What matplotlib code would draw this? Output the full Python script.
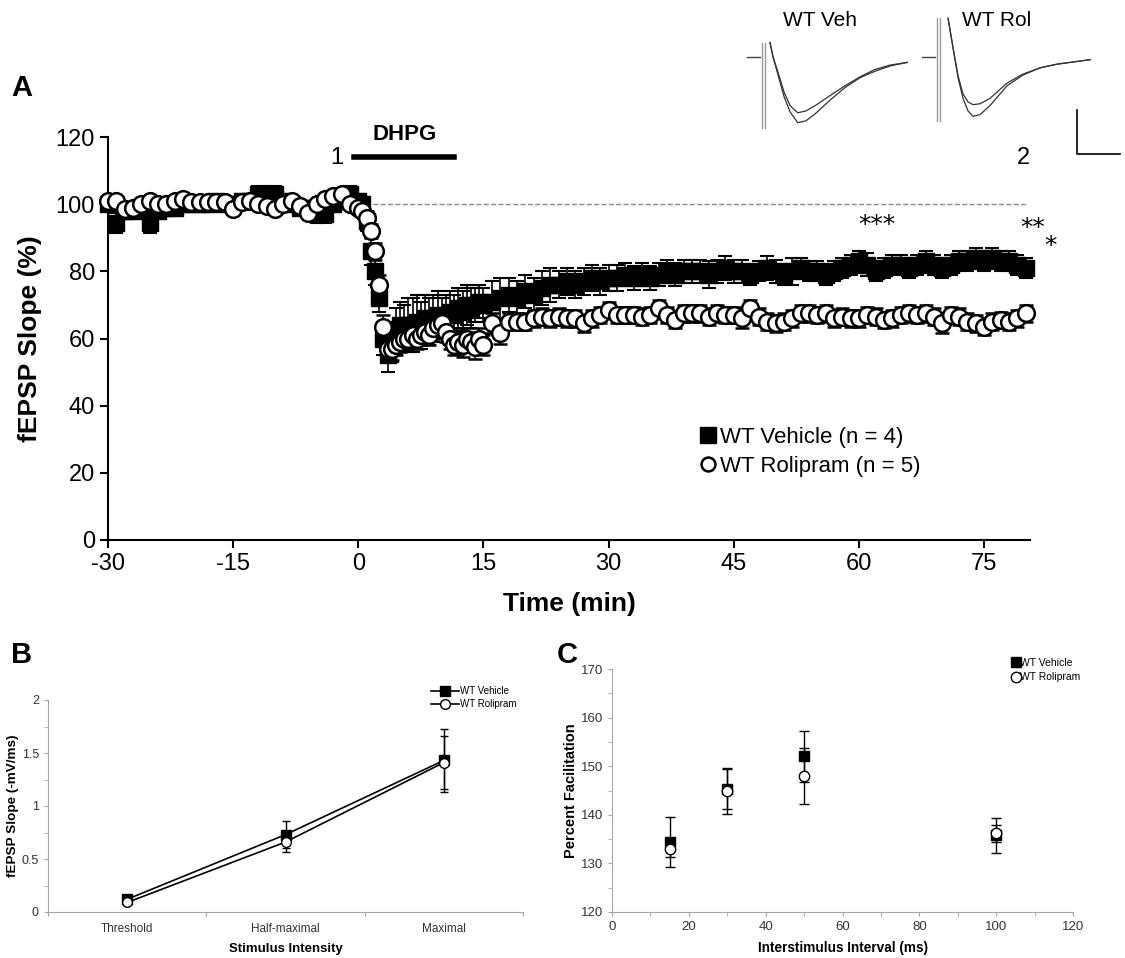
import numpy as np
import matplotlib
import matplotlib.pyplot as plt
from matplotlib.lines import Line2D

matplotlib.use('Agg')
plt.rcParams['font.family'] = ['Liberation Sans', 'DejaVu Sans']
plt.rcParams['axes.unicode_minus'] = False

# ---- panel A: fEPSP slope time course ----
time_min = np.r_[np.arange(-30, 0), np.arange(0, 15.5, 0.5), np.arange(16, 81)]

veh_mean = [100, 94.5, 98, 98, 99, 94.5, 98, 99, 99, 100,
            100, 100, 100, 101, 100, 100, 101, 101, 103, 103,
            103, 101, 100, 99, 99, 97, 97, 100, 101, 103,
            101, 100, 95, 86, 80, 72, 60, 55, 59, 62, 64, 63, 64, 64, 65, 64,
            66, 65, 66, 67, 66, 67, 68, 67, 69, 68, 70, 69, 70, 71, 70,
            71, 72, 73, 72, 74, 73, 75, 76, 76, 77,
            76, 77, 78, 77, 78, 78, 79, 78, 79, 78,
            79, 80, 79, 80, 80, 80, 79, 80, 81, 80,
            80, 79, 80, 81, 80, 79, 80, 81, 80, 80,
            79, 80, 81, 82, 83, 82, 80, 81, 82, 82,
            81, 82, 83, 82, 81, 82, 83, 83, 84, 83,
            84, 83, 83, 82, 81]
veh_sem = [1.5, 3, 2, 2, 1.5, 3, 2, 1.5, 1.5, 1.5,
           1.5, 1.5, 1.5, 1.5, 1.5, 1.5, 2, 2, 2.5, 2.5,
           2.5, 2, 1.5, 2, 2, 2.5, 2.5, 2, 2, 2.5,
           2, 2, 3, 4, 4, 4, 5, 5, 6, 7, 7, 7, 8, 8, 8, 7,
           7, 7, 7, 7, 6, 6, 6, 6, 6, 6, 6, 6, 5, 5, 5,
           6, 6, 5, 5, 5, 5, 5, 5, 4, 4,
           4, 4, 4, 4, 4, 4, 3.5, 3.5, 3.5, 3.5,
           3.5, 3.5, 3.5, 3.5, 3.5, 3.5, 4, 3.5, 3.5, 3.5,
           3.5, 3, 3, 3.5, 3.5, 3, 4, 3, 3, 3,
           3, 3, 3, 3, 3, 3.5, 3, 3, 3, 3,
           3, 3, 3, 3, 3, 3, 3, 3, 3, 3,
           3, 3, 3, 3, 3]

rol_mean = [101, 101, 98.5, 99, 100, 101, 100, 100, 101, 101.5,
            100.5, 100.5, 100.5, 100.5, 100.5, 98.5, 100.5, 101, 100, 99.5,
            98.5, 100, 101, 99.5, 97.5, 100, 101.5, 102.5, 103, 100,
            99, 98, 96, 92, 86, 76, 63.5, 57, 57, 58, 59, 60, 60, 61, 60, 61,
            62, 61, 63, 64, 64.5, 62, 60, 58, 59, 58, 60, 59, 57.5, 60, 58,
            64.5, 61.5, 65, 65, 65, 66, 66.5, 66, 66.5, 66,
            66, 64.5, 66, 67, 68.5, 67, 67, 67, 66.5, 67,
            69, 67, 65.5, 67.5, 67.5, 67.5, 66.5, 67.5, 67, 67,
            66, 69, 66.5, 65, 64.5, 65, 66, 67.5, 67.5, 67,
            67.5, 66, 66.5, 66, 66, 67, 66.5, 65.5, 66, 67,
            67.5, 67, 67.5, 66.5, 64.5, 67, 66.5, 65, 64.5, 63.5,
            65, 65.5, 65, 66, 67.5]
rol_sem = [1, 1, 1.5, 1.5, 1, 1, 1, 1, 1, 1,
           1, 1, 1, 1, 1, 1.5, 1, 1, 1, 1,
           1.5, 1, 1, 1.5, 1.5, 1, 1, 1.5, 1.5, 1.5,
           1.5, 1.5, 2, 2, 2.5, 3, 3.5, 4, 3.5, 3, 3, 3, 3, 3, 3, 3,
           3, 3, 3, 3, 3, 3, 3, 3, 3.5, 3.5, 3, 3, 3.5, 3, 3,
           3, 3, 2.5, 2.5, 2.5, 2.5, 2.5, 2.5, 2.5, 2.5,
           2.5, 2.5, 2.5, 2.5, 2.5, 2.5, 2.5, 2.5, 2.5, 2.5,
           2.5, 2.5, 2.5, 2.5, 2.5, 2.5, 2.5, 2.5, 2.5, 2.5,
           3, 2.5, 2.5, 2.5, 2.5, 2.5, 2.5, 2.5, 2.5, 2.5,
           2.5, 2.5, 2.5, 2.5, 2.5, 2.5, 2.5, 2.5, 2.5, 2.5,
           2.5, 2.5, 2.5, 2.5, 3, 2.5, 2.5, 2.5, 2.5, 2.5,
           2.5, 2.5, 2.5, 2.5, 2.5]

# ---- example traces (ms, mV) ----
veh_tr_t = [0.93, 1.28, 1.86, 2.56, 3.26, 4.15, 5.1, 6.2, 7.9, 9.65, 11.4, 13.1, 14.9, 16.9]
veh_tr_1 = [0.16, 0, -0.20, -0.44, -0.61, -0.73, -0.71, -0.63, -0.48, -0.34, -0.23, -0.16, -0.10, -0.06]
veh_tr_2 = [0.16, 0, -0.17, -0.39, -0.54, -0.62, -0.60, -0.54, -0.43, -0.32, -0.22, -0.14, -0.09, -0.06]
rol_tr_t = [1.28, 1.86, 2.44, 3.02, 3.6, 4.19, 5.0, 6.16, 8.14, 10.0, 12.0, 13.95, 17.8]
rol_tr_1 = [0.43, 0.10, -0.23, -0.46, -0.60, -0.66, -0.64, -0.54, -0.32, -0.20, -0.12, -0.08, -0.03]
rol_tr_2 = [0.43, 0.10, -0.21, -0.41, -0.50, -0.53, -0.52, -0.46, -0.29, -0.19, -0.12, -0.08, -0.03]

# ---- panel B: input/output ----
intensity = ['Threshold', 'Half-maximal', 'Maximal']
veh_io = [0.12, 0.73, 1.43]
veh_io_err = [0.02, 0.13, 0.30]
rol_io = [0.09, 0.66, 1.41]
rol_io_err = [0.02, 0.09, 0.25]

# ---- panel C: paired-pulse facilitation ----
isi_ms = [15, 30, 50, 100]
veh_ppf = [134.4, 145.4, 152.0, 135.8]
veh_ppf_err = [5.2, 4.3, 5.3, 3.6]
rol_ppf = [133.0, 144.8, 148.0, 136.2]
rol_ppf_err = [1.6, 4.6, 5.8, 1.7]

W, H = 1125, 958
fig = plt.figure(figsize=(W / 100, H / 100), dpi=100)


def px_axes(x0, y0, x1, y1):
    return fig.add_axes([x0 / W, 1 - y1 / H, (x1 - x0) / W, (y1 - y0) / H])


# ================= A =================
ax = px_axes(108, 137, 1030, 540)
ax.plot([0, 80], [100, 100], ls='--', color='#8c8c8c', lw=1, zorder=1)
eb_v = ax.errorbar(time_min, veh_mean, yerr=veh_sem, fmt='s', color='black',
                   ms=11, capsize=5, elinewidth=1.2, capthick=1.5, zorder=3)
eb_r = ax.errorbar(time_min, rol_mean, yerr=rol_sem, fmt='o', color='black',
                   mfc='white', mec='black', mew=1.8, ms=12, capsize=5,
                   elinewidth=1.2, capthick=1.5, zorder=4)
for eb in (eb_v, eb_r):
    for art in eb.lines[1] + eb.lines[2] + (eb.lines[0],):
        art.set_clip_on(False)
ax.set_xlim(-30, 80.5)
ax.set_ylim(0, 120)
ax.set_xticks(range(-30, 76, 15))
ax.set_yticks(range(0, 121, 20))
ax.tick_params(labelsize=17, width=1.5, length=6, direction='out')
for s in ('top', 'right'):
    ax.spines[s].set_visible(False)
for s in ('left', 'bottom'):
    ax.spines[s].set_linewidth(1.5)
ax.set_ylabel('fEPSP Slope (%)', fontsize=19, fontweight='bold', labelpad=10)
ax.set_xlabel('Time (min)', fontsize=19, fontweight='bold', labelpad=12)

ax.plot([-0.5, 11.5], [114, 114], color='black', lw=4, clip_on=False)
ax.text(5.5, 120.6, 'DHPG', fontsize=16, fontweight='bold', ha='center', va='center', clip_on=False)
ax.text(-2.6, 113.8, '1', fontsize=17, ha='center', va='center')
ax.text(79.7, 113.8, '2', fontsize=17, ha='center', va='center')
ax.text(62.1, 93.8, '***', family='DejaVu Sans', fontsize=18, ha='center', va='center')
ax.text(80.8, 92.9, '**', family='DejaVu Sans', fontsize=18, ha='center', va='center', clip_on=False)
ax.text(83.0, 87.6, '*', family='DejaVu Sans', fontsize=18, ha='center', va='center', clip_on=False)

h_a = [Line2D([], [], ls='none', marker='s', color='black', ms=11),
       Line2D([], [], ls='none', marker='o', mfc='white', mec='black', mew=1.8, ms=10)]
ax.legend(h_a, ['WT Vehicle (n = 4)', 'WT Rolipram (n = 5)'], loc='upper left',
          bbox_to_anchor=(700 / W, 1 - 427 / H), bbox_transform=fig.transFigure,
          frameon=False, fontsize=16, handlelength=0.7, handletextpad=0.2,
          labelspacing=0.35, borderaxespad=0, borderpad=0)

# inset traces
tr = px_axes(740, 0, 1125, 170)
tr.set_xlim(-2.56, 42.2)
tr.set_ylim(-1.256, 0.633)
tr.axis('off')
rol_off = 20.35
tr.plot([-1.7, -0.2], [0, 0], color='#444444', lw=1)
tr.plot([-1.7 + rol_off, -0.2 + rol_off], [0, 0], color='#444444', lw=1)
for x0 in (0, 0.3):
    tr.plot([x0, x0], [0.16, -0.79], color='#999999', lw=1)
    tr.plot([x0 + rol_off, x0 + rol_off], [0.43, -0.71], color='#999999', lw=1)
tr.plot(veh_tr_t, veh_tr_1, color='#333333', lw=0.9)
tr.plot(veh_tr_t, veh_tr_2, color='#333333', lw=0.9)
tr.plot(np.array(rol_tr_t) + rol_off, rol_tr_1, color='#333333', lw=0.9)
tr.plot(np.array(rol_tr_t) + rol_off, rol_tr_2, color='#333333', lw=0.9)
tr.plot([36.6, 36.6, 41.6], [-0.59, -1.08, -1.08], color='black', lw=1.2)
tr.text(6.7, 0.41, 'WT Veh', fontsize=15, ha='center', va='center')
tr.text(27.3, 0.41, 'WT Rol', fontsize=15, ha='center', va='center')

# ================= B =================
grey = '#a6a6a6'
axb = px_axes(48, 700, 523, 912)
xb = np.arange(len(intensity)) + 0.5
axb.errorbar(xb, veh_io, yerr=veh_io_err, fmt='-s', color='black', mfc='black',
             ms=6.5, lw=1.2, capsize=3, elinewidth=1, zorder=3)
axb.errorbar(xb, rol_io, yerr=rol_io_err, fmt='-o', color='black', mfc='white',
             mec='black', ms=7, lw=1.2, capsize=3, elinewidth=1, zorder=4)
axb.set_xlim(0, 3)
axb.set_ylim(0, 2)
axb.set_xticks([0, 1, 2, 3])
axb.set_xticklabels([])
axb.set_xticks(xb, minor=True)
axb.set_xticklabels(intensity, minor=True)
axb.set_yticks([0, 0.5, 1, 1.5, 2])
axb.set_yticklabels(['0', '0.5', '1', '1.5', '2'])
axb.set_yticks([0.25, 0.75, 1.25, 1.75], minor=True)
axb.tick_params(axis='x', which='minor', length=0, labelsize=8.5, colors='#333333', pad=8)
axb.tick_params(axis='x', which='major', length=3, color=grey)
axb.tick_params(axis='y', which='both', length=3, color=grey, labelsize=9, labelcolor='#333333')
for s in ('top', 'right'):
    axb.spines[s].set_visible(False)
for s in ('left', 'bottom'):
    axb.spines[s].set_color(grey)
axb.set_ylabel('fEPSP Slope (-mV/ms)', fontsize=9.7, fontweight='bold', labelpad=2)
axb.set_xlabel('Stimulus Intensity', fontsize=9.5, fontweight='bold', labelpad=6)
h_b = [Line2D([], [], color='black', marker='s', ms=6.5, lw=1.2),
       Line2D([], [], color='black', marker='o', mfc='white', ms=7, lw=1.2)]
axb.legend(h_b, ['WT Vehicle', 'WT Rolipram'], loc='upper right',
           bbox_to_anchor=(517 / W, 1 - 686 / H), bbox_transform=fig.transFigure,
           frameon=False, fontsize=7, handlelength=2.8, handletextpad=0.2,
           labelspacing=0.3, borderaxespad=0, borderpad=0)

# ================= C =================
axc = px_axes(612, 669, 1073, 912)
axc.errorbar(isi_ms, veh_ppf, yerr=veh_ppf_err, fmt='s', color='black',
             ms=7.5, capsize=3.5, elinewidth=1, zorder=3)
axc.errorbar(isi_ms, rol_ppf, yerr=rol_ppf_err, fmt='o', color='black',
             mfc='white', mec='black', ms=7.5, capsize=3.5, elinewidth=1, zorder=4)
axc.set_xlim(0, 120)
axc.set_ylim(120, 170)
axc.set_xticks(range(0, 121, 20))
axc.set_xticks(range(10, 120, 20), minor=True)
axc.set_yticks(range(120, 171, 10))
axc.set_yticks(range(125, 170, 10), minor=True)
axc.tick_params(which='both', length=3, color=grey, labelsize=9.5, labelcolor='#333333')
for s in ('top', 'right'):
    axc.spines[s].set_visible(False)
for s in ('left', 'bottom'):
    axc.spines[s].set_color(grey)
axc.set_ylabel('Percent Facilitation', fontsize=10.5, fontweight='bold', labelpad=2)
axc.set_xlabel('Interstimulus Interval (ms)', fontsize=9.8, fontweight='bold', labelpad=6)
h_c = [Line2D([], [], ls='none', marker='s', color='black', ms=7.5),
       Line2D([], [], ls='none', marker='o', mfc='white', mec='black', ms=7.5)]
axc.legend(h_c, ['WT Vehicle', 'WT Rolipram'], loc='upper right',
           bbox_to_anchor=(1080 / W, 1 - 658 / H), bbox_transform=fig.transFigure,
           frameon=False, fontsize=7.5, handlelength=0.6, handletextpad=0.1,
           labelspacing=0.4, borderaxespad=0, borderpad=0)

# panel letters
fig.text(22 / W, 1 - 88 / H, 'A', fontsize=21, fontweight='bold', ha='center', va='center')
fig.text(22 / W, 1 - 655 / H, 'B', fontsize=21, fontweight='bold', ha='center', va='center')
fig.text(567 / W, 1 - 655 / H, 'C', fontsize=21, fontweight='bold', ha='center', va='center')

fig.savefig('out.png', dpi=100, facecolor='white')
